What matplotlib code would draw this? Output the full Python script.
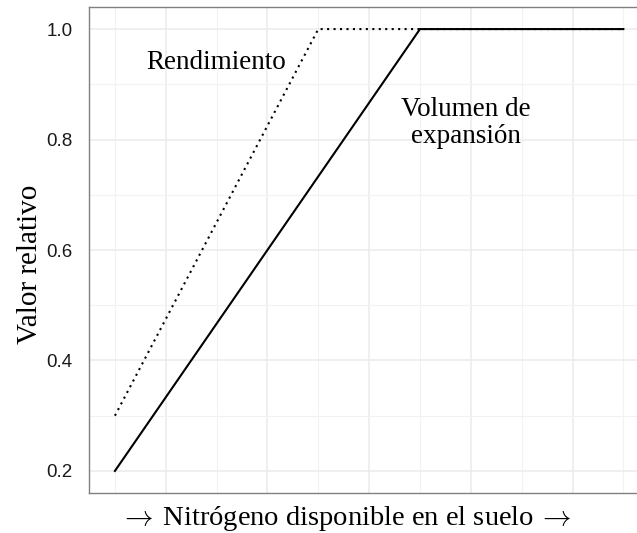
import matplotlib.pyplot as plt
from matplotlib.ticker import MultipleLocator, NullFormatter

# datos (nitrógeno en unidades arbitrarias)
x_rend = [0, 2, 5]
y_rend = [0.3, 1.0, 1.0]
x_vol = [0, 3, 5]
y_vol = [0.2, 1.0, 1.0]
y_ticks = [0.2, 0.4, 0.6, 0.8, 1.0]

serif = ['Liberation Serif', 'DejaVu Serif']
plt.rcParams['mathtext.fontset'] = 'cm'

fig = plt.figure(figsize=(6.37, 5.33), dpi=100)
ax = fig.add_axes([0.1405, 0.075, 0.878, 0.9119])

ax.plot(x_rend, y_rend, color='black', lw=1.5, linestyle=(0, (1, 2.1)))
ax.plot(x_vol, y_vol, color='black', lw=1.5)

ax.text(1.0, 0.94, 'Rendimiento', family=serif, fontsize=19.5,
        ha='center', va='center')
ax.text(3.45, 0.83, 'Volumen de\nexpansión', family=serif, fontsize=19.5,
        ha='center', va='center', linespacing=1.1)

ax.set_xlim(-0.25, 5.25)
ax.set_ylim(0.16, 1.04)
ax.set_yticks(y_ticks)
ax.yaxis.set_minor_locator(MultipleLocator(0.1))
ax.xaxis.set_major_locator(MultipleLocator(1, offset=0.5))
ax.xaxis.set_minor_locator(MultipleLocator(1))
ax.xaxis.set_major_formatter(NullFormatter())

ax.grid(which='major', color='#ebebeb', lw=1.1)
ax.grid(which='minor', color='#f2f2f2', lw=0.8)
ax.set_axisbelow(True)
ax.tick_params(which='both', length=0)
ax.tick_params(axis='y', labelsize=13.5, pad=12)
for lab in ax.get_yticklabels():
    lab.set_family('Liberation Sans')
    lab.set_color('#1a1a1a')

for side in ['left', 'bottom', 'top']:
    ax.spines[side].set_color('#808080')
    ax.spines[side].set_linewidth(1.0)
ax.spines['right'].set_visible(False)

ax.set_ylabel('Valor relativo', family=serif, fontsize=21)
ax.yaxis.set_label_coords(-0.083, 0.47, transform=ax.transAxes)
ax.set_xlabel(r'$\rightarrow\,$Nitrógeno disponible en el suelo$\,\rightarrow$',
              family=serif, fontsize=20.5)
ax.xaxis.set_label_coords(0.457, -0.022, transform=ax.transAxes)
ax.xaxis.label.set_va('top')

fig.savefig('out.png', dpi=100)
